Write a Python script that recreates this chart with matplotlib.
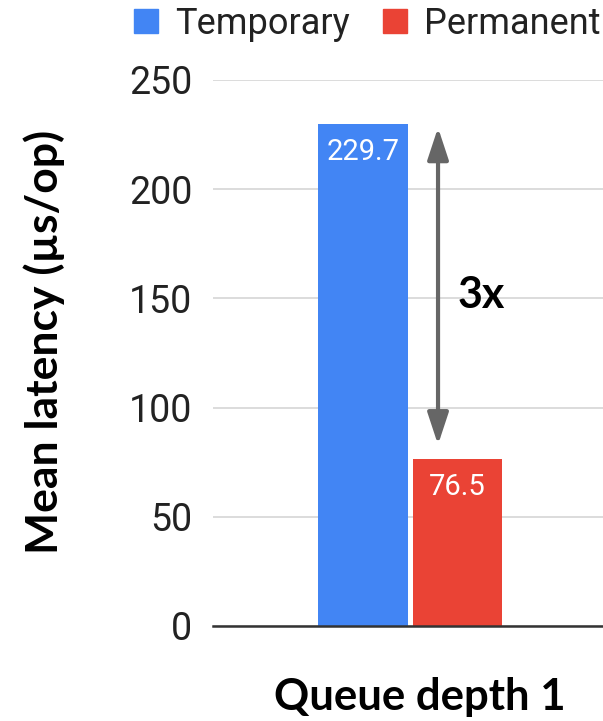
import numpy as np
import matplotlib
matplotlib.use("Agg")
import matplotlib.pyplot as plt
from matplotlib.lines import Line2D

# data
categories = ["Queue depth 1"]
series_names = ["Temporary", "Permanent"]
temporary = [229.7]
permanent = [76.5]
ratio_label = "3x"
y_ticks = [0, 50, 100, 150, 200, 250]

C = {"Temporary": "#4285f4", "Permanent": "#ea4335", "grid": "#d9d9d9",
     "base": "#333333", "arrow": "#666666", "text": "#222222"}

plt.rcParams.update({"font.family": "Roboto"})

fig = plt.figure(figsize=(6.03, 7.21), dpi=100)
ax = fig.add_axes([213 / 603, 1 - 626 / 721, 390 / 603, 546 / 721])

x = np.arange(len(categories)) + 0.012
w, gap = 0.46, 0.025
b1 = ax.bar(x - (w + gap) / 2, temporary, w, color=C["Temporary"], zorder=3)
b2 = ax.bar(x + (w + gap) / 2, permanent, w, color=C["Permanent"], zorder=3)

for bars, vals in [(b1, temporary), (b2, permanent)]:
    for r, v in zip(bars, vals):
        ax.annotate(f"{v}", (r.get_x() + r.get_width() / 2, v), xytext=(0, -20),
                    textcoords="offset points", ha="center", va="center",
                    color="white", fontsize=21, zorder=4)

# double arrow between the two bar tops
ax.annotate("", xy=(0.154, temporary[0] - 1.5), xytext=(0.154, permanent[0] + 6.5),
            arrowprops=dict(arrowstyle="<|-|>,head_length=0.97,head_width=0.32",
                            color=C["arrow"], lw=3, mutation_scale=20,
                            shrinkA=0, shrinkB=0), zorder=5)
ax.text(0.256, 151.5, ratio_label, ha="left", va="center", fontsize=31,
        fontweight="bold", family="Lato", color="black")

ax.set_xlim(-1, 1)
ax.set_ylim(0, 250)
ax.set_yticks(y_ticks)
ax.set_xticks([])
ax.tick_params(axis="y", length=0, pad=15, labelsize=27, labelcolor=C["text"])
ax.grid(axis="y", color=C["grid"], lw=1.3, zorder=0)
for s in ["top", "right", "left"]:
    ax.spines[s].set_visible(False)
ax.spines["bottom"].set_color(C["base"])
ax.spines["bottom"].set_linewidth(1.8)
ax.spines["bottom"].set_zorder(4)

fig.text(44 / 603, 1 - 342 / 721, "Mean latency (µs/op)", rotation=90, ha="center",
         va="center", fontsize=32, fontweight="bold", family="Lato", color="black")
fig.text(420 / 603, 1 - 697 / 721, categories[0], ha="center", va="center",
         fontsize=31.5, fontweight="bold", family="Lato", color="black")

handles = [Line2D([0], [0], marker="s", ls="", markersize=17, color=C[n]) for n in series_names]
fig.legend(handles, series_names, loc="center", bbox_to_anchor=(367 / 603, 1 - 24 / 721),
           ncol=2, frameon=False, fontsize=26, handlelength=0.7, handletextpad=0.45,
           columnspacing=0.9, labelcolor=C["text"], borderaxespad=0, borderpad=0)

fig.savefig("out.png", dpi=100, facecolor="white")
